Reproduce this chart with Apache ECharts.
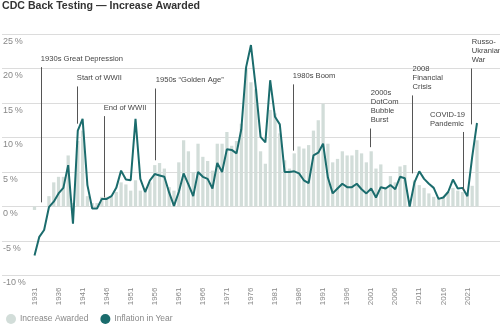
<!DOCTYPE html>
<html><head><meta charset="utf-8">
<script src="https://cdn.jsdelivr.net/npm/echarts@6/dist/echarts.min.js"></script>
<style>html,body{margin:0;padding:0;background:#fff}#c{width:500px;height:329px}</style>
</head><body><div id="c"></div>
<script>
const years = ['1931','1932','1933','1934','1935','1936','1937','1938','1939','1940',
'1941','1942','1943','1944','1945','1946','1947','1948','1949','1950',
'1951','1952','1953','1954','1955','1956','1957','1958','1959','1960',
'1961','1962','1963','1964','1965','1966','1967','1968','1969','1970',
'1971','1972','1973','1974','1975','1976','1977','1978','1979','1980',
'1981','1982','1983','1984','1985','1986','1987','1988','1989','1990',
'1991','1992','1993','1994','1995','1996','1997','1998','1999','2000',
'2001','2002','2003','2004','2005','2006','2007','2008','2009','2010',
'2011','2012','2013','2014','2015','2016','2017','2018','2019','2020',
'2021','2022','2023'];

const increaseAwarded = [-0.5,0,0,1.5,3.5,4.3,4.3,7.4,0.5,9.5,
11.0,1.5,0.5,0.5,1.4,1.4,1.4,2.1,3.5,3.2,
2.3,3.8,2.3,2.7,3.5,6.0,6.3,5.5,2.8,2.3,
6.4,9.6,8.0,5.0,9.1,7.2,6.6,5.2,9.1,9.1,
10.8,8.8,9.5,12.0,20.0,18.0,17.0,8.0,6.2,14.0,
13.5,10.6,6.7,5.5,7.7,8.7,8.4,8.9,11.0,12.5,
14.9,9.1,6.4,6.9,8.0,7.4,7.4,8.2,7.7,6.4,
8.0,5.5,6.1,2.8,4.4,3.5,5.8,6.0,0.5,3.8,
3.1,2.7,1.9,1.4,1.1,1.4,2.1,2.7,2.3,2.1,
1.9,3.0,9.6];

const inflationInYear = [-7.1,-4.4,-3.4,-0.1,0.7,1.9,2.7,6.0,-2.5,11.0,
12.7,3.1,-0.3,-0.3,1.1,1.1,1.5,2.7,5.2,3.9,
3.8,12.7,4.0,2.1,3.8,4.7,4.5,4.3,2.0,0.1,
2.1,4.8,3.2,1.5,5.0,4.3,4.0,2.6,6.3,5.0,
8.3,8.2,7.7,11.2,20.2,23.4,17.3,10.1,9.3,18.3,
13.0,11.9,5.0,5.0,5.1,4.8,3.8,3.4,7.4,7.8,
9.1,4.2,1.9,2.6,3.3,2.8,2.8,3.3,2.5,1.9,
2.6,1.3,2.8,2.6,3.1,2.5,4.3,4.1,0.0,3.5,
5.1,4.0,3.3,2.7,1.1,1.3,2.1,3.9,2.6,2.7,
1.5,7.2,12.1];

const yTicks = [-10,-5,0,5,10,15,20,25];

const eventLabels = ['1930s Great Depression','Start of WWII','End of WWII','1950s \u201cGolden Age\u201d',
'1973 Oil Crisis','1980s Boom','2000s\nDotCom\nBubble\nBurst','2008\nFinancial\nCrisis','COVID-19\nPandemic','Russo-\nUkranian\nWar'];
const eventYears = [1932.3,1939.8,1945.4,1956.2,1973.7,1984.7,2000.9,2009.6,2020.1,2021.9];
const eventTop =    [20.2,17.4,13.1,17.1,25.5,17.7,11.3,16.1,10.8,20.0];
const eventBottom = [0.6,12.0,1.3,6.7,16.9,8.1,8.6,4.8,2.3,11.9];
const eventShift =  [0,0,0,0,0,0,0,0,-33,0];

const FONT = 'Liberation Sans, Arial, sans-serif';
const chart = echarts.init(document.getElementById('c'), null, {renderer:'canvas'});
const TOP = 34, BOTTOM = 53.5;

chart.setOption({
  animation:false,
  textStyle:{fontFamily:FONT},
  title:{text:'CDC Back Testing \u2014 Increase Awarded', left:2, top:1, padding:0,
    textStyle:{fontSize:10.6, fontWeight:'bold', color:'#333', fontFamily:FONT}},
  legend:{left:1, bottom:0, itemWidth:10, itemHeight:10, itemGap:12, icon:'circle',
    data:['Increase Awarded','Inflation in Year'],
    textStyle:{fontSize:8.5, color:'#888', fontFamily:FONT, padding:[0,0,0,-1]}},
  grid:[
    {left:32.1, right:20.6, top:TOP, bottom:BOTTOM},
    {left:0, right:0, top:TOP, bottom:BOTTOM}
  ],
  xAxis:[
    {type:'category', gridIndex:0, data:years, boundaryGap:true,
     axisLine:{show:false}, axisTick:{show:false},
     axisLabel:{interval:4, rotate:90, margin:12, fontSize:8, color:'#888', fontFamily:FONT}},
    {type:'value', gridIndex:0, min:1930.5, max:2023.5, show:false},
    {type:'value', gridIndex:1, min:0, max:1, show:false}
  ],
  yAxis:[
    {type:'value', gridIndex:0, min:-10, max:25, interval:5, show:false, splitLine:{show:false}},
    {type:'value', gridIndex:1, min:-10, max:25, interval:5,
     axisLine:{show:false}, axisTick:{show:false},
     splitLine:{show:true, lineStyle:{color:'#dcdcdc', width:1}},
     axisLabel:{inside:true, margin:1, verticalAlign:'top', padding:[3,0,0,0], fontSize:9, color:'#888', fontFamily:FONT,
       formatter:v => yTicks.includes(v) ? v + '\u2009%' : ''}}
  ],
  series:[
    {name:'Increase Awarded', type:'bar', xAxisIndex:0, yAxisIndex:0, data:increaseAwarded,
     barWidth:'68%', itemStyle:{color:'#d2ddd9'}, z:2},
    {name:'Inflation in Year', type:'line', xAxisIndex:0, yAxisIndex:0, data:inflationInYear,
     symbol:'none', lineStyle:{color:'#1b6c6d', width:2}, itemStyle:{color:'#1b6c6d'}, z:4},
    {name:'events', type:'line', xAxisIndex:1, yAxisIndex:0, data:[], z:5,
     markLine:{silent:true, symbol:['none','none'], label:{show:false},
       lineStyle:{color:'#555', width:1, type:'solid'},
       data: eventYears.map((y,i)=>[{coord:[y,eventTop[i]]},{coord:[y,eventBottom[i]]}])},
     markPoint:{silent:true, symbol:'circle', symbolSize:0,
       label:{show:true, position:'top', distance:4, align:'left', verticalAlign:'bottom', fontSize:7.6, lineHeight:9, color:'#444', fontFamily:FONT},
       data: eventYears.map((y,i)=>({coord:[y,eventTop[i]], label:{formatter:eventLabels[i], align:'left', offset:[eventShift[i],0]}}))}
    }
  ]
});
</script></body></html>
